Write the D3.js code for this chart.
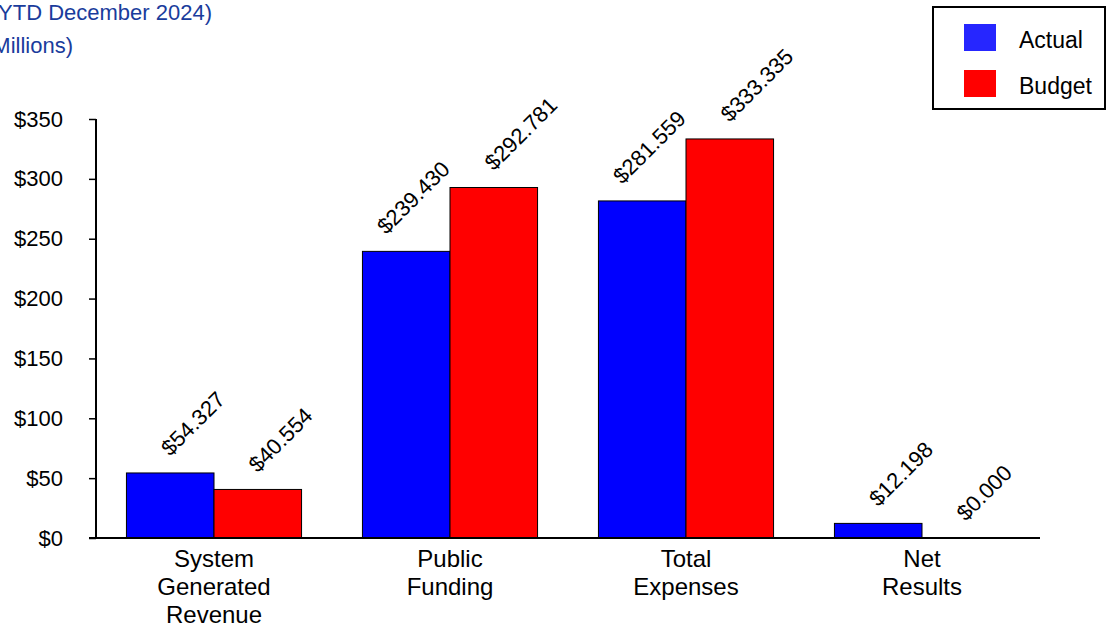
<!DOCTYPE html>
<html>
<head>
<meta charset="utf-8">
<script src="https://cdn.jsdelivr.net/npm/d3@7"></script>
<style>
  body { margin: 0; background: #fff; overflow: hidden; }
  svg { display: block; font-family: Arial, "Liberation Sans", sans-serif; }
</style>
</head>
<body>
<script>
// data
var categories = [["System", "Generated", "Revenue"], ["Public", "Funding"], ["Total", "Expenses"], ["Net", "Results"]];
var series = ["Actual", "Budget"];
var actual = [54.327, 239.430, 281.559, 12.198];
var budget = [40.554, 292.781, 333.335, 0.000];
var yTicks = [0, 50, 100, 150, 200, 250, 300, 350];
var colors = ["#0000ff", "#ff0000"];

var width = 1108, height = 631;

var svg = d3.select('body').append('svg')
  .attr('width', width)
  .attr('height', height);

var catIndex = d3.range(categories.length);

// outer bands, excel style (half gap at ends)
var x0 = d3.scaleBand()
  .domain(catIndex)
  .range([96, 1040])
  .paddingInner(0.258)
  .paddingOuter(0.129);

var x1 = d3.scaleBand()
  .domain(series)
  .range([0, x0.bandwidth()]);

var y = d3.scaleLinear()
  .domain([0, 350])
  .range([538, 119]);

// title, cut off at the left edge like the original
svg.append('text')
  .attr('x', 212).attr('y', 20)
  .attr('text-anchor', 'end')
  .attr('fill', '#1a3c9c')
  .style('font-size', '22px')
  .text('Net Results (YTD December 2024)');
svg.append('text')
  .attr('x', 73).attr('y', 53)
  .attr('text-anchor', 'end')
  .attr('fill', '#1a3c9c')
  .style('font-size', '22px')
  .text('(Millions)');

// y axis
var yAxis = d3.axisLeft(y)
  .tickValues(yTicks)
  .tickSize(7)
  .tickPadding(26)
  .tickFormat(function(d) { return '$' + d; });

var gy = svg.append('g')
  .attr('transform', 'translate(96,0)')
  .call(yAxis);
gy.select('.domain').attr('stroke', '#000').attr('stroke-width', 2).attr('d', 'M0,' + y(350) + 'V' + y(0));
gy.selectAll('.tick line').attr('stroke', '#000').attr('stroke-width', 1.5);
gy.selectAll('.tick text')
  .attr('fill', '#000')
  .style('font-size', '22px')
  .style('font-family', 'Arial, "Liberation Sans", sans-serif');

// bars
var rows = catIndex.map(function(i) {
  return [
    { s: "Actual", v: actual[i], c: colors[0], other: budget[i] },
    { s: "Budget", v: budget[i], c: colors[1], other: actual[i] }
  ];
});

var groups = svg.selectAll('.grp')
  .data(rows)
  .enter()
  .append('g')
  .attr('class', 'grp')
  .attr('transform', function(d, i) { return 'translate(' + x0(i) + ',0)'; });

groups.selectAll('rect')
  .data(function(d) { return d; })
  .enter()
  .append('rect')
  .filter(function(d) { return d.v > 0; })
  .attr('x', function(d) { return x1(d.s); })
  .attr('y', function(d) { return y(d.v); })
  .attr('width', x1.bandwidth())
  .attr('height', function(d) { return y(0) - y(d.v); })
  .attr('fill', function(d) { return d.c; })
  .attr('stroke', '#000')
  .attr('stroke-width', 1);

// value labels, rotated; actual label slides left when the budget bar next to it is taller
groups.selectAll('.val')
  .data(function(d) { return d; })
  .enter()
  .append('text')
  .attr('class', 'val')
  .attr('transform', function(d) {
    var shift = (d.s == "Actual" && d.other > d.v) ? -20 : 0;
    var cx = x1(d.s) + x1.bandwidth() / 2 + shift;
    var cy = y(d.v) - 16;
    return 'translate(' + cx + ',' + cy + ') rotate(-45)';
  })
  .style('font-size', '22px')
  .attr('fill', '#000')
  .text(function(d) { return '$' + d.v.toFixed(3); });

// x axis line
svg.append('line')
  .attr('x1', 89).attr('x2', 1040)
  .attr('y1', y(0)).attr('y2', y(0))
  .attr('stroke', '#000')
  .attr('stroke-width', 2);

// category labels
var cat = svg.selectAll('.cat')
  .data(categories)
  .enter()
  .append('text')
  .attr('class', 'cat')
  .attr('text-anchor', 'middle')
  .style('font-size', '24px')
  .attr('fill', '#000');
cat.selectAll('tspan')
  .data(function(d, i) { return d.map(function(t) { return { t: t, i: i }; }); })
  .enter()
  .append('tspan')
  .attr('x', function(d) { return x0(d.i) + x0.bandwidth() / 2; })
  .attr('y', function(d, j) { return 567 + j * 28; })
  .text(function(d) { return d.t; });

// legend
var legend = svg.append('g');
legend.append('rect')
  .attr('x', 933).attr('y', 7)
  .attr('width', 172).attr('height', 102)
  .attr('fill', '#fff')
  .attr('stroke', '#000')
  .attr('stroke-width', 2);

var item = legend.selectAll('.item')
  .data(series)
  .enter()
  .append('g')
  .attr('class', 'item')
  .attr('transform', function(d, i) { return 'translate(964,' + (24 + i * 46) + ')'; });
item.append('rect')
  .attr('width', 32).attr('height', 27)
  .attr('fill', function(d, i) { return i == 0 ? '#2626ff' : colors[1]; });
item.append('text')
  .attr('x', 55).attr('y', 24)
  .style('font-size', '23px')
  .attr('fill', '#000')
  .text(function(d) { return d; });
</script>
</body>
</html>
